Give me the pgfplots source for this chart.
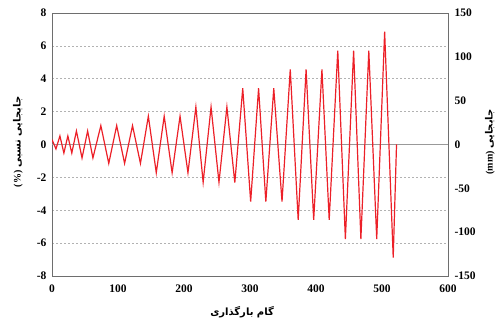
\documentclass[border=0pt]{standalone}
\usepackage{pgfplots}
\pgfplotsset{compat=1.18}
\usepackage{fontspec}
\setmainfont{Liberation Serif}
\newfontfamily\arabicfont[Script=Arabic]{DejaVu Sans}
\TeXXeTstate=1
\definecolor{linered}{RGB}{236,32,40}
\definecolor{axisgray}{RGB}{110,110,110}
\begin{document}
\begin{tikzpicture}
\pgfplotsset{
  common/.style={
    scale only axis, width=396pt, height=263pt,
    xmin=0, xmax=600,
    major tick length=0pt,
    axis line style={axisgray, line width=0.9pt},
    tick label style={font=\fontsize{11.5}{13}\selectfont\bfseries},
    /pgf/number format/assume math mode=true,
  }
}
\begin{axis}[common,
  name=main,
  ymin=-8, ymax=8,
  xtick={0,100,...,600}, ytick={-8,-6,...,8},
  ytick pos=left, xtick pos=bottom,
  ymajorgrids, grid style={dash pattern=on 2pt off 2pt, gray!60, line width=0.5pt},
  xticklabel style={yshift=-5pt},
  yticklabel style={xshift=-2pt},
  xlabel={\arabicfont\bfseries\fontsize{10}{12}\selectfont\beginR گام بارگذاری\endR},
  xlabel style={at={(axis description cs:0.48,-0.137)}, anchor=center},
  ylabel={\fontsize{10}{12}\selectfont\bfseries(\%) \arabicfont\beginR جابجایی نسبی\endR},
  ylabel style={at={(axis description cs:-0.086,0.51)}, anchor=center, rotate=0},
]
\addplot[gray!80, line width=0.7pt, forget plot] coordinates {(0,0) (600,0)};
\addplot[linered, line width=1.2pt] coordinates {
(0,0.3)(6,-0.27)(12,0.52)(18,-0.52)(24,0.52)(30,-0.52)(37,0.82)(45.5,-0.82)(54,0.82)(62,-0.82)
(74,1.15)(86,-1.15)(98,1.15)(110,-1.15)(122,1.15)(134,-1.15)
(146,1.72)(158,-1.72)(170,1.72)(182,-1.72)(194,1.72)(206,-1.72)
(218,2.28)(229,-2.3)(241,2.28)(253,-2.3)(265,2.28)(277,-2.32)
(289,3.42)(301,-3.48)(313,3.42)(324,-3.48)(336,3.42)(348.5,-3.48)
(361,4.57)(373,-4.59)(385,4.57)(396.5,-4.59)(409,4.57)(420,-4.59)
(433,5.71)(444.5,-5.75)(457,5.71)(468,-5.75)(480,5.71)(492,-5.75)
(504,6.86)(517,-6.88)(522,0)
};
\end{axis}
\begin{axis}[common,
  ymin=-150, ymax=150,
  ytick={-150,-100,...,150},
  axis y line*=right, axis x line=none,
  yticklabel style={xshift=3pt},
  ylabel={\fontsize{10}{12}\selectfont\bfseries(mm) \arabicfont\beginR جابجایی\endR},
  ylabel style={at={(axis description cs:1.106,0.51)}, anchor=center, rotate=0},
]
\end{axis}
\pgfresetboundingbox
\path ([shift={(-52pt,-49pt)}]main.south west) rectangle ([shift={(53pt,13pt)}]main.north east);
\end{tikzpicture}
\end{document}
